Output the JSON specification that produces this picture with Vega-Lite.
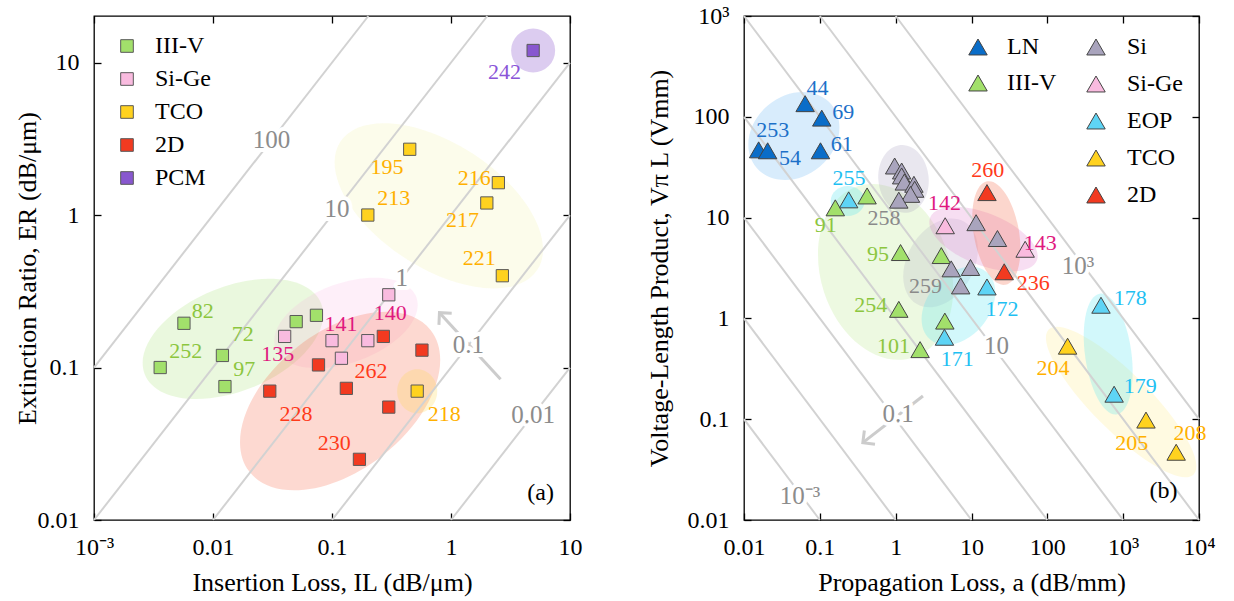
{
"$schema": "https://vega.github.io/schema/vega-lite/v6.json",
"background": "white",
"padding": {"left": 13, "top": 3, "right": 4, "bottom": 4},
"spacing": 62,
"config": {
  "font": "Liberation Serif",
  "text": {"font": "Liberation Serif"},
  "view": {"stroke": "#000", "strokeWidth": 1.3},
  "axis": {"labelFont": "Liberation Serif", "titleFont": "Liberation Serif", "labelFontSize": 24, "titleFontSize": 26, "titleFontWeight": "normal", "labelColor": "#000", "titleColor": "#000", "tickColor": "#000", "tickWidth": 1.3, "tickSize": -7, "labelPadding": 22, "domain": false, "grid": false, "labelFlush": false, "labelOverlap": false, "titlePadding": 10},
  "legend": {"labelFont": "Liberation Serif", "labelFontSize": 24, "labelColor": "#000", "padding": 0, "title": null}
},
"datasets": {
  "ptsA": [
    {"g": "III-V", "il": 0.0057, "er": 0.195}, {"g": "III-V", "il": 0.012, "er": 0.12}, {"g": "III-V", "il": 0.0036, "er": 0.1}, {"g": "III-V", "il": 0.0126, "er": 0.075}, {"g": "III-V", "il": 0.05, "er": 0.2}, {"g": "III-V", "il": 0.074, "er": 0.22},
    {"g": "Si-Ge", "il": 0.04, "er": 0.16}, {"g": "Si-Ge", "il": 0.3, "er": 0.3}, {"g": "Si-Ge", "il": 0.1, "er": 0.15}, {"g": "Si-Ge", "il": 0.2, "er": 0.15}, {"g": "Si-Ge", "il": 0.12, "er": 0.115},
    {"g": "TCO", "il": 0.45, "er": 2.7}, {"g": "TCO", "il": 0.2, "er": 1.0}, {"g": "TCO", "il": 2.5, "er": 1.63}, {"g": "TCO", "il": 2.0, "er": 1.2}, {"g": "TCO", "il": 2.7, "er": 0.4}, {"g": "TCO", "il": 0.52, "er": 0.07},
    {"g": "2D", "il": 0.27, "er": 0.16}, {"g": "2D", "il": 0.57, "er": 0.13}, {"g": "2D", "il": 0.077, "er": 0.104}, {"g": "2D", "il": 0.132, "er": 0.073}, {"g": "2D", "il": 0.03, "er": 0.07}, {"g": "2D", "il": 0.3, "er": 0.055}, {"g": "2D", "il": 0.17, "er": 0.025},
    {"g": "PCM", "il": 4.9, "er": 12}
  ],
  "lblA": [
    {"g": "III-V", "t": "82", "il": 0.0082, "er": 0.235}, {"g": "III-V", "t": "72", "il": 0.0178, "er": 0.165}, {"g": "III-V", "t": "252", "il": 0.0059, "er": 0.128}, {"g": "III-V", "t": "97", "il": 0.0183, "er": 0.0973},
    {"g": "Si-Ge", "t": "135", "il": 0.035, "er": 0.122}, {"g": "Si-Ge", "t": "141", "il": 0.119, "er": 0.192}, {"g": "Si-Ge", "t": "140", "il": 0.309, "er": 0.229},
    {"g": "2D", "t": "262", "il": 0.213, "er": 0.0948}, {"g": "2D", "t": "228", "il": 0.0498, "er": 0.0498}, {"g": "2D", "t": "230", "il": 0.1045, "er": 0.0321},
    {"g": "TCO", "t": "195", "il": 0.29, "er": 2.06}, {"g": "TCO", "t": "213", "il": 0.33, "er": 1.29}, {"g": "TCO", "t": "216", "il": 1.57, "er": 1.74}, {"g": "TCO", "t": "217", "il": 1.25, "er": 0.923}, {"g": "TCO", "t": "221", "il": 1.73, "er": 0.52}, {"g": "TCO", "t": "218", "il": 0.879, "er": 0.0493},
    {"g": "PCM", "t": "242", "il": 2.81, "er": 8.7}
  ],
  "fomA": [
    {"f": "100", "il": 0.001, "er": 0.1}, {"f": "100", "il": 0.202, "er": 20.2},
    {"f": "10", "il": 0.001, "er": 0.01}, {"f": "10", "il": 2.02, "er": 20.2},
    {"f": "1", "il": 0.01, "er": 0.01}, {"f": "1", "il": 10, "er": 10},
    {"f": "0.1", "il": 0.1, "er": 0.01}, {"f": "0.1", "il": 10, "er": 1},
    {"f": "0.01", "il": 1, "er": 0.01}, {"f": "0.01", "il": 10, "er": 0.1}
  ],
  "fomLblA": [
    {"t": "100", "il": 0.031, "er": 3.1}, {"t": "10", "il": 0.11, "er": 1.1}, {"t": "1", "il": 0.385, "er": 0.385}, {"t": "0.1", "il": 1.4, "er": 0.14}, {"t": "0.01", "il": 4.9, "er": 0.049}
  ],
  "arrA": [{"p": "tail", "il": 2.61, "er": 0.0837}, {"p": "head", "il": 0.8, "er": 0.229}],
  "ellA": [
    {"e": "III-V", "il": 0.0147, "er": 0.154}, {"e": "Si-Ge", "il": 0.131, "er": 0.196}, {"e": "2D", "il": 0.117, "er": 0.0603},
    {"e": "TCO", "il": 0.79, "er": 1.15}, {"e": "TCO218", "il": 0.52, "er": 0.07}, {"e": "PCM", "il": 4.9, "er": 12}
  ],
  "tagA": [{"t": "(a)", "il": 5.66, "er": 0.0151}],
  "ptsB": [
    {"g": "LN", "a": 0.064, "v": 135}, {"g": "LN", "a": 0.106, "v": 97}, {"g": "LN", "a": 0.102, "v": 46}, {"g": "LN", "a": 0.0156, "v": 47}, {"g": "LN", "a": 0.0205, "v": 46},
    {"g": "III-V", "a": 0.16, "v": 12.5}, {"g": "III-V", "a": 0.42, "v": 16.4}, {"g": "III-V", "a": 1.16, "v": 4.5}, {"g": "III-V", "a": 4.0, "v": 4.2}, {"g": "III-V", "a": 1.1, "v": 1.23}, {"g": "III-V", "a": 4.45, "v": 0.94}, {"g": "III-V", "a": 2.1, "v": 0.49},
    {"g": "Si", "a": 0.97, "v": 32.5}, {"g": "Si", "a": 1.2, "v": 29}, {"g": "Si", "a": 1.2, "v": 25.9}, {"g": "Si", "a": 1.3, "v": 22.5}, {"g": "Si", "a": 1.74, "v": 21.4}, {"g": "Si", "a": 1.78, "v": 19.1}, {"g": "Si", "a": 1.57, "v": 17}, {"g": "Si", "a": 1.1, "v": 14.9},
    {"g": "Si", "a": 11.5, "v": 8.9}, {"g": "Si", "a": 22, "v": 6.2}, {"g": "Si", "a": 5.4, "v": 3.1}, {"g": "Si", "a": 9.7, "v": 3.2}, {"g": "Si", "a": 7.2, "v": 2.1},
    {"g": "Si-Ge", "a": 4.5, "v": 8.3}, {"g": "Si-Ge", "a": 51, "v": 4.85},
    {"g": "EOP", "a": 0.24, "v": 15}, {"g": "EOP", "a": 16, "v": 2.05}, {"g": "EOP", "a": 4.4, "v": 0.65}, {"g": "EOP", "a": 510, "v": 1.35}, {"g": "EOP", "a": 760, "v": 0.177},
    {"g": "TCO", "a": 185, "v": 0.53}, {"g": "TCO", "a": 2000, "v": 0.098}, {"g": "TCO", "a": 5000, "v": 0.047},
    {"g": "2D", "a": 16, "v": 17.7}, {"g": "2D", "a": 27, "v": 2.9}
  ],
  "lblB": [
    {"g": "LN", "t": "44", "a": 0.0933, "v": 194}, {"g": "LN", "t": "69", "a": 0.203, "v": 112}, {"g": "LN", "t": "253", "a": 0.0239, "v": 73.5}, {"g": "LN", "t": "54", "a": 0.0403, "v": 38.7}, {"g": "LN", "t": "61", "a": 0.195, "v": 54.1},
    {"g": "EOP", "t": "255", "a": 0.243, "v": 24.9}, {"g": "III-V", "t": "91", "a": 0.12, "v": 8.45}, {"g": "Si", "t": "258", "a": 0.7, "v": 9.84},
    {"g": "2D", "t": "260", "a": 16.4, "v": 29.5}, {"g": "Si-Ge", "t": "142", "a": 4.41, "v": 14.1}, {"g": "Si-Ge", "t": "143", "a": 80.9, "v": 5.64},
    {"g": "III-V", "t": "95", "a": 0.585, "v": 4.38}, {"g": "Si", "t": "259", "a": 2.48, "v": 2.1}, {"g": "2D", "t": "236", "a": 65.4, "v": 2.26}, {"g": "EOP", "t": "172", "a": 25.3, "v": 1.23},
    {"g": "III-V", "t": "254", "a": 0.469, "v": 1.36}, {"g": "III-V", "t": "101", "a": 0.933, "v": 0.532}, {"g": "EOP", "t": "171", "a": 6.48, "v": 0.398},
    {"g": "EOP", "t": "178", "a": 1236, "v": 1.6}, {"g": "TCO", "t": "204", "a": 119, "v": 0.324}, {"g": "EOP", "t": "179", "a": 1675, "v": 0.213}, {"g": "TCO", "t": "205", "a": 1301, "v": 0.0585}, {"g": "TCO", "t": "208", "a": 7620, "v": 0.0724}
  ],
  "fomB": [
    {"f": "0.001", "a": 0.01, "v": 0.1}, {"f": "0.001", "a": 0.1, "v": 0.01},
    {"f": "0.01", "a": 0.01, "v": 1}, {"f": "0.01", "a": 1, "v": 0.01},
    {"f": "0.1", "a": 0.01, "v": 10}, {"f": "0.1", "a": 10, "v": 0.01},
    {"f": "1", "a": 0.01, "v": 100}, {"f": "1", "a": 100, "v": 0.01},
    {"f": "10", "a": 0.01, "v": 1000}, {"f": "10", "a": 1000, "v": 0.01},
    {"f": "100", "a": 0.1, "v": 1000}, {"f": "100", "a": 10000, "v": 0.01},
    {"f": "1000", "a": 1, "v": 1000}, {"f": "1000", "a": 10000, "v": 0.1}
  ],
  "fomLblB": [
    {"t": "10⁻³", "a": 0.0548, "v": 0.0173}, {"t": "0.1", "a": 1.08, "v": 0.112}, {"t": "10", "a": 21.3, "v": 0.532}, {"t": "10³", "a": 253, "v": 3.31}
  ],
  "arrB": [{"p": "tail", "a": 2.29, "v": 0.17}, {"p": "head", "a": 0.369, "v": 0.0585}],
  "ellB": [
    {"e": "LN", "a": 0.0455, "v": 64.5}, {"e": "III-V", "a": 0.737, "v": 2.89}, {"e": "EOP255", "a": 0.233, "v": 14.6}, {"e": "Si", "a": 1.27, "v": 24.2},
    {"e": "Si259", "a": 3.91, "v": 3.55}, {"e": "Si-Ge", "a": 14.4, "v": 6.13}, {"e": "2D", "a": 21.3, "v": 7.03}, {"e": "EOP171", "a": 6.74, "v": 1.33},
    {"e": "TCO", "a": 942, "v": 0.148}, {"e": "EOP178", "a": 635, "v": 0.443}
  ],
  "tagB": [{"t": "(b)", "a": 3400, "v": 0.0194}]
},
"hconcat": [
{
  "width": 476, "height": 504,
  "encoding": {
    "x": {"field": "il", "type": "quantitative", "scale": {"type": "log", "domain": [0.001, 10], "nice": false}, "axis": null},
    "y": {"field": "er", "type": "quantitative", "scale": {"type": "log", "domain": [0.01, 20.2], "nice": false}, "axis": null}
  },
  "resolve": {"axis": {"x": "independent", "y": "independent"}},
  "layer": [
    {"data": {"name": "ellA"}, "transform": [{"filter": "datum.e == 'III-V'"}], "mark": {"type": "point", "shape": "M1,0C1,0.304 0.552,0.55 0,0.55C-0.552,0.55 -1,0.304 -1,0C-1,-0.304 -0.552,-0.55 0,-0.55C0.552,-0.55 1,-0.304 1,0Z", "size": 36100, "angle": -22, "filled": true, "color": "#8CD84A", "opacity": 0.18, "strokeWidth": 0}},
    {"data": {"name": "ellA"}, "transform": [{"filter": "datum.e == 'Si-Ge'"}], "mark": {"type": "point", "shape": "M1,0C1,0.293 0.552,0.53 0,0.53C-0.552,0.53 -1,0.293 -1,0C-1,-0.293 -0.552,-0.53 0,-0.53C0.552,-0.53 1,-0.293 1,0Z", "size": 22500, "angle": -20, "filled": true, "color": "#F7A8DF", "opacity": 0.18, "strokeWidth": 0}},
    {"data": {"name": "ellA"}, "transform": [{"filter": "datum.e == '2D'"}], "mark": {"type": "point", "shape": "M1,0C1,0.331 0.552,0.6 0,0.6C-0.552,0.6 -1,0.331 -1,0C-1,-0.331 -0.552,-0.6 0,-0.6C0.552,-0.6 1,-0.331 1,0Z", "size": 52900, "angle": -38, "filled": true, "color": "#F5603E", "opacity": 0.24, "strokeWidth": 0}},
    {"data": {"name": "ellA"}, "transform": [{"filter": "datum.e == 'TCO'"}], "mark": {"type": "point", "shape": "M1,0C1,0.293 0.552,0.53 0,0.53C-0.552,0.53 -1,0.293 -1,0C-1,-0.293 -0.552,-0.53 0,-0.53C0.552,-0.53 1,-0.293 1,0Z", "size": 55225, "angle": 33, "filled": true, "color": "#F2EE9A", "opacity": 0.2, "strokeWidth": 0}},
    {"data": {"name": "ellA"}, "transform": [{"filter": "datum.e == 'TCO218'"}], "mark": {"type": "point", "shape": "M1,0C1,0.503 0.552,0.91 0,0.91C-0.552,0.91 -1,0.503 -1,0C-1,-0.503 -0.552,-0.91 0,-0.91C0.552,-0.91 1,-0.503 1,0Z", "size": 1936, "angle": 90, "filled": true, "color": "#FFD84A", "opacity": 0.25, "strokeWidth": 0}},
    {"data": {"name": "ellA"}, "transform": [{"filter": "datum.e == 'PCM'"}], "mark": {"type": "point", "shape": "circle", "size": 1936, "filled": true, "color": "#8A55CC", "opacity": 0.3, "strokeWidth": 0}},
    {"data": {"name": "fomA"}, "mark": {"type": "line", "color": "#d2d2d2", "strokeWidth": 2},
     "encoding": {"detail": {"field": "f"},
       "x": {"field": "il", "type": "quantitative", "axis": {"orient": "top", "values": [0.001, 0.01, 0.1, 1, 10], "labels": false, "title": null}},
       "y": {"field": "er", "type": "quantitative", "axis": {"orient": "right", "values": [0.01, 0.1, 1, 10], "labels": false, "title": null}}}},
    {"data": {"name": "arrA"}, "mark": {"type": "line", "color": "#cccccc", "strokeWidth": 3}},
    {"data": {"name": "arrA"}, "transform": [{"filter": "datum.p == 'head'"}], "mark": {"type": "point", "shape": "M-1,1L0,0L1,1", "size": 300, "angle": -42.5, "filled": false, "color": "#cccccc", "strokeWidth": 3, "opacity": 1}},
    {"data": {"name": "fomLblA"}, "mark": {"type": "text", "font": "Liberation Serif", "fontSize": 25, "fill": "white", "stroke": "white", "strokeWidth": 8, "strokeJoin": "round"}, "encoding": {"text": {"field": "t"}}},
    {"data": {"name": "fomLblA"}, "mark": {"type": "text", "font": "Liberation Serif", "fontSize": 25, "color": "#8c8c8c"}, "encoding": {"text": {"field": "t"}}},
    {"data": {"name": "ptsA"}, "mark": {"type": "point", "shape": "square", "size": 150, "filled": true, "stroke": "#5a5a5a", "strokeWidth": 1, "opacity": 1},
     "encoding": {
       "fill": {"field": "g", "type": "nominal", "scale": {"domain": ["III-V", "Si-Ge", "TCO", "2D", "PCM"], "range": ["#A2E06B", "#F9BBDF", "#FFD21F", "#F23A20", "#8857CF"]},
         "legend": {"orient": "none", "legendX": 21, "legendY": 18, "symbolType": "square", "symbolSize": 160, "symbolStrokeColor": "#5a5a5a", "symbolStrokeWidth": 1, "labelFont": "Liberation Serif", "labelOffset": 16, "rowPadding": 9}},
       "x": {"field": "il", "type": "quantitative", "axis": {"orient": "bottom", "values": [0.001, 0.01, 0.1, 1, 10], "labelExpr": "datum.value < 0.002 ? '10⁻³' : datum.value < 0.02 ? '0.01' : datum.value < 0.2 ? '0.1' : datum.value < 2 ? '1' : '10'", "title": "Insertion Loss, IL (dB/μm)"}},
       "y": {"field": "er", "type": "quantitative", "axis": {"orient": "left", "values": [0.01, 0.1, 1, 10], "labelExpr": "datum.value < 0.02 ? '0.01' : datum.value < 0.2 ? '0.1' : datum.value < 2 ? '1' : '10'", "title": "Extinction Ratio, ER (dB/μm)", "titlePadding": -3}}}},
    {"data": {"name": "lblA"}, "mark": {"type": "text", "font": "Liberation Serif", "fontSize": 22},
     "encoding": {"text": {"field": "t"}, "color": {"field": "g", "type": "nominal", "scale": {"domain": ["III-V", "Si-Ge", "TCO", "2D", "PCM"], "range": ["#8CC63F", "#E0197F", "#FFB000", "#FF3A1A", "#8A55D8"]}, "legend": null}}},
    {"data": {"name": "tagA"}, "mark": {"type": "text", "font": "Liberation Serif", "fontSize": 24, "color": "#000"}, "encoding": {"text": {"field": "t"}}}
  ]
},
{
  "width": 455, "height": 504,
  "encoding": {
    "x": {"field": "a", "type": "quantitative", "scale": {"type": "log", "domain": [0.01, 10000], "nice": false}, "axis": null},
    "y": {"field": "v", "type": "quantitative", "scale": {"type": "log", "domain": [0.01, 1000], "nice": false}, "axis": null}
  },
  "resolve": {"axis": {"x": "independent", "y": "independent"}, "scale": {"fill": "independent"}},
  "layer": [
    {"data": {"name": "ellB"}, "transform": [{"filter": "datum.e == 'LN'"}], "mark": {"type": "point", "shape": "M1,0C1,0.453 0.552,0.82 0,0.82C-0.552,0.82 -1,0.453 -1,0C-1,-0.453 -0.552,-0.82 0,-0.82C0.552,-0.82 1,-0.453 1,0Z", "size": 9604, "angle": -40, "filled": true, "color": "#3AA0F0", "opacity": 0.2, "strokeWidth": 0}},
    {"data": {"name": "ellB"}, "transform": [{"filter": "datum.e == 'III-V'"}], "mark": {"type": "point", "shape": "M1,0C1,0.398 0.552,0.72 0,0.72C-0.552,0.72 -1,0.398 -1,0C-1,-0.398 -0.552,-0.72 0,-0.72C0.552,-0.72 1,-0.398 1,0Z", "size": 32400, "angle": 72, "filled": true, "color": "#A6E06A", "opacity": 0.2, "strokeWidth": 0}},
    {"data": {"name": "ellB"}, "transform": [{"filter": "datum.e == 'EOP255'"}], "mark": {"type": "point", "shape": "M1,0C1,0.486 0.552,0.88 0,0.88C-0.552,0.88 -1,0.486 -1,0C-1,-0.486 -0.552,-0.88 0,-0.88C0.552,-0.88 1,-0.486 1,0Z", "size": 1156, "angle": 0, "filled": true, "color": "#5EE6F0", "opacity": 0.3, "strokeWidth": 0}},
    {"data": {"name": "ellB"}, "transform": [{"filter": "datum.e == 'Si'"}], "mark": {"type": "point", "shape": "M1,0C1,0.409 0.552,0.74 0,0.74C-0.552,0.74 -1,0.409 -1,0C-1,-0.409 -0.552,-0.74 0,-0.74C0.552,-0.74 1,-0.409 1,0Z", "size": 4624, "angle": 85, "filled": true, "color": "#9A93B5", "opacity": 0.22, "strokeWidth": 0}},
    {"data": {"name": "ellB"}, "transform": [{"filter": "datum.e == 'Si259'"}], "mark": {"type": "point", "shape": "M1,0C1,0.387 0.552,0.7 0,0.7C-0.552,0.7 -1,0.387 -1,0C-1,-0.387 -0.552,-0.7 0,-0.7C0.552,-0.7 1,-0.387 1,0Z", "size": 9025, "angle": -60, "filled": true, "color": "#9A93B5", "opacity": 0.18, "strokeWidth": 0}},
    {"data": {"name": "ellB"}, "transform": [{"filter": "datum.e == 'Si-Ge'"}], "mark": {"type": "point", "shape": "M1,0C1,0.249 0.552,0.45 0,0.45C-0.552,0.45 -1,0.249 -1,0C-1,-0.249 -0.552,-0.45 0,-0.45C0.552,-0.45 1,-0.249 1,0Z", "size": 13225, "angle": 22, "filled": true, "color": "#E07CCB", "opacity": 0.25, "strokeWidth": 0}},
    {"data": {"name": "ellB"}, "transform": [{"filter": "datum.e == '2D'"}], "mark": {"type": "point", "shape": "M1,0C1,0.237 0.552,0.43 0,0.43C-0.552,0.43 -1,0.237 -1,0C-1,-0.237 -0.552,-0.43 0,-0.43C0.552,-0.43 1,-0.237 1,0Z", "size": 11025, "angle": 80, "filled": true, "color": "#F5785A", "opacity": 0.3, "strokeWidth": 0}},
    {"data": {"name": "ellB"}, "transform": [{"filter": "datum.e == 'EOP171'"}], "mark": {"type": "point", "shape": "M1,0C1,0.387 0.552,0.7 0,0.7C-0.552,0.7 -1,0.387 -1,0C-1,-0.387 -0.552,-0.7 0,-0.7C0.552,-0.7 1,-0.387 1,0Z", "size": 7744, "angle": -50, "filled": true, "color": "#5EE6F0", "opacity": 0.28, "strokeWidth": 0}},
    {"data": {"name": "ellB"}, "transform": [{"filter": "datum.e == 'TCO'"}], "mark": {"type": "point", "shape": "M1,0C1,0.155 0.552,0.28 0,0.28C-0.552,0.28 -1,0.155 -1,0C-1,-0.155 -0.552,-0.28 0,-0.28C0.552,-0.28 1,-0.155 1,0Z", "size": 42025, "angle": 45, "filled": true, "color": "#FFE66A", "opacity": 0.2, "strokeWidth": 0}},
    {"data": {"name": "ellB"}, "transform": [{"filter": "datum.e == 'EOP178'"}], "mark": {"type": "point", "shape": "M1,0C1,0.21 0.552,0.38 0,0.38C-0.552,0.38 -1,0.21 -1,0C-1,-0.21 -0.552,-0.38 0,-0.38C0.552,-0.38 1,-0.21 1,0Z", "size": 14884, "angle": 82, "filled": true, "color": "#5EE6F0", "opacity": 0.28, "strokeWidth": 0}},
    {"data": {"name": "fomB"}, "mark": {"type": "line", "color": "#d2d2d2", "strokeWidth": 2},
     "encoding": {"detail": {"field": "f"},
       "x": {"field": "a", "type": "quantitative", "axis": {"orient": "top", "values": [0.01, 0.1, 1, 10, 100, 1000, 10000], "labels": false, "title": null}},
       "y": {"field": "v", "type": "quantitative", "axis": {"orient": "right", "values": [0.01, 0.1, 1, 10, 100, 1000], "labels": false, "title": null}}}},
    {"data": {"name": "arrB"}, "mark": {"type": "line", "color": "#cccccc", "strokeWidth": 3}},
    {"data": {"name": "arrB"}, "transform": [{"filter": "datum.p == 'head'"}], "mark": {"type": "point", "shape": "M-1,1L0,0L1,1", "size": 300, "angle": -127.8, "filled": false, "color": "#cccccc", "strokeWidth": 3, "opacity": 1}},
    {"data": {"name": "fomLblB"}, "mark": {"type": "text", "font": "Liberation Serif", "fontSize": 25, "fill": "white", "stroke": "white", "strokeWidth": 8, "strokeJoin": "round"}, "encoding": {"text": {"field": "t"}}},
    {"data": {"name": "fomLblB"}, "mark": {"type": "text", "font": "Liberation Serif", "fontSize": 25, "color": "#8c8c8c"}, "encoding": {"text": {"field": "t"}}},
    {"data": {"name": "ptsB"}, "transform": [{"filter": "datum.g == 'LN' || datum.g == 'III-V'"}], "mark": {"type": "point", "shape": "triangle-up", "size": 340, "filled": true, "stroke": "#444", "strokeWidth": 1, "opacity": 1},
     "encoding": {
       "fill": {"field": "g", "type": "nominal", "scale": {"domain": ["LN", "III-V"], "range": ["#0A6DC8", "#A2E06B"]},
         "legend": {"orient": "none", "legendX": 222, "legendY": 19, "symbolType": "triangle-up", "symbolSize": 340, "symbolStrokeColor": "#444", "symbolStrokeWidth": 1, "labelFont": "Liberation Serif", "labelOffset": 17, "rowPadding": 12}},
       "x": {"field": "a", "type": "quantitative", "axis": {"orient": "bottom", "values": [0.01, 0.1, 1, 10, 100, 1000, 10000], "labelExpr": "datum.value < 0.02 ? '0.01' : datum.value < 0.2 ? '0.1' : datum.value < 2 ? '1' : datum.value < 20 ? '10' : datum.value < 200 ? '100' : datum.value < 2000 ? '10³' : '10⁴'", "title": "Propagation Loss, a (dB/mm)"}},
       "y": {"field": "v", "type": "quantitative", "axis": {"orient": "left", "values": [0.01, 0.1, 1, 10, 100, 1000], "labelExpr": "datum.value < 0.02 ? '0.01' : datum.value < 0.2 ? '0.1' : datum.value < 2 ? '1' : datum.value < 20 ? '10' : datum.value < 200 ? '100' : '10³'", "title": "Voltage-Length Product, Vπ L (Vmm)", "titlePadding": 15}}}},
    {"data": {"name": "ptsB"}, "transform": [{"filter": "datum.g != 'LN' && datum.g != 'III-V'"}], "mark": {"type": "point", "shape": "triangle-up", "size": 340, "filled": true, "stroke": "#444", "strokeWidth": 1, "opacity": 1},
     "encoding": {
       "fill": {"field": "g", "type": "nominal", "scale": {"domain": ["Si", "Si-Ge", "EOP", "TCO", "2D"], "range": ["#A9A4BD", "#F9BBDF", "#5ED4F5", "#FFD21F", "#F23A20"]},
         "legend": {"orient": "none", "legendX": 340, "legendY": 19, "symbolType": "triangle-up", "symbolSize": 340, "symbolStrokeColor": "#444", "symbolStrokeWidth": 1, "labelFont": "Liberation Serif", "labelOffset": 19, "rowPadding": 13}}}},
    {"data": {"name": "lblB"}, "mark": {"type": "text", "font": "Liberation Serif", "fontSize": 22},
     "encoding": {"text": {"field": "t"}, "color": {"field": "g", "type": "nominal", "scale": {"domain": ["LN", "III-V", "Si", "Si-Ge", "EOP", "TCO", "2D"], "range": ["#1C70C8", "#8CC63F", "#8A8A8A", "#E0197F", "#1EC0F2", "#FFB000", "#FF3A1A"]}, "legend": null}}},
    {"data": {"name": "tagB"}, "mark": {"type": "text", "font": "Liberation Serif", "fontSize": 24, "color": "#000"}, "encoding": {"text": {"field": "t"}}}
  ]
}
],
"resolve": {"scale": {"x": "independent", "y": "independent", "color": "independent", "fill": "independent"}}
}
